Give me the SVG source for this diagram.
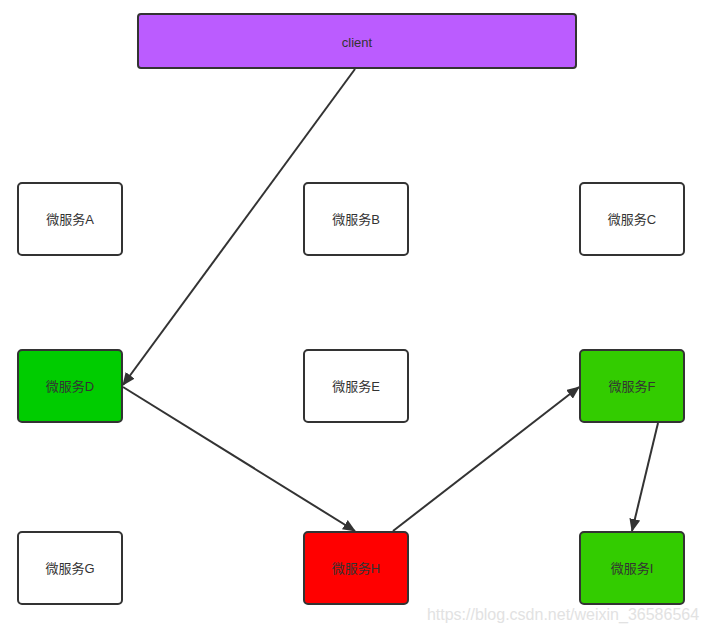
<svg xmlns="http://www.w3.org/2000/svg" width="709" height="634" viewBox="0 0 709 634">
<style>
.box{stroke:#333;stroke-width:2}
.t{font-family:"Liberation Sans","Noto Sans CJK SC",sans-serif;font-size:13px;text-anchor:middle;dominant-baseline:central;fill:#333}
</style>
<defs>
<marker id="ah2" viewBox="0 0 13 11" refX="12" refY="5.5" markerWidth="13" markerHeight="11" orient="auto" markerUnits="userSpaceOnUse">
<path d="M0,0 L13,5.5 L0,11 z" fill="#333"/>
</marker>
</defs>
<rect width="709" height="634" fill="#fff"/>
<g id="client"><rect class="box" x="138" y="14" width="438" height="54" rx="3" fill="#bb5cff"/><text class="t" x="357" y="42" fill="#2a0840" font-size="14">client</text></g>
<g id="A"><rect class="box" x="18" y="183" width="104" height="72" rx="4" fill="#fff"/><text class="t" x="70" y="219">微服务A</text></g>
<g id="B"><rect class="box" x="304" y="183" width="104" height="72" rx="4" fill="#fff"/><text class="t" x="356" y="219">微服务B</text></g>
<g id="C"><rect class="box" x="580" y="183" width="104" height="72" rx="4" fill="#fff"/><text class="t" x="632" y="219">微服务C</text></g>
<g id="D"><rect class="box" x="18" y="350" width="104" height="72" rx="4" fill="#00cc00"/><text class="t" x="70" y="386" fill="#0a4a0a">微服务D</text></g>
<g id="E"><rect class="box" x="304" y="350" width="104" height="72" rx="4" fill="#fff"/><text class="t" x="356" y="386">微服务E</text></g>
<g id="F"><rect class="box" x="580" y="350" width="104" height="72" rx="4" fill="#33cc00"/><text class="t" x="632" y="386" fill="#0f3a05">微服务F</text></g>
<g id="G"><rect class="box" x="18" y="532" width="104" height="72" rx="4" fill="#fff"/><text class="t" x="70" y="568">微服务G</text></g>
<g id="H"><rect class="box" x="304" y="532" width="104" height="72" rx="4" fill="#ff0000"/><text class="t" x="356" y="568" fill="#6a1010">微服务H</text></g>
<g id="I"><rect class="box" x="580" y="532" width="104" height="72" rx="4" fill="#33cc00"/><text class="t" x="632" y="568" fill="#1f4a10">微服务I</text></g>
<g id="connectors">
<line x1="355" y1="69" x2="123" y2="385" stroke="#333" stroke-width="2" marker-end="url(#ah2)"/>
<line x1="123" y1="387" x2="355" y2="531" stroke="#333" stroke-width="2" marker-end="url(#ah2)"/>
<line x1="393" y1="531" x2="579" y2="387" stroke="#333" stroke-width="2" marker-end="url(#ah2)"/>
<line x1="658" y1="423" x2="632" y2="531" stroke="#333" stroke-width="2" marker-end="url(#ah2)"/>
</g>
<text x="563" y="614" font-family="'Liberation Sans',sans-serif" font-size="16" fill="#e2e2e2" text-anchor="middle" dominant-baseline="central">https://blog.csdn.net/weixin_36586564</text>
</svg>
